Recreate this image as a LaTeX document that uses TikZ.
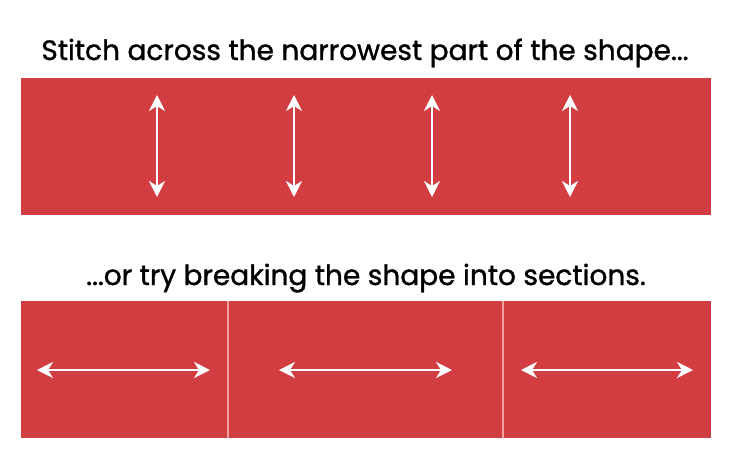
\documentclass[tikz,border=0pt]{standalone}
\usepackage{fontspec}
\setmainfont{Poppins}
\usetikzlibrary{arrows.meta}
\definecolor{feltred}{HTML}{D23D41}
\definecolor{seampink}{HTML}{F2A3A0}
\begin{document}
\begin{tikzpicture}[
                x=1pt,y=-1pt,
                panel/.style={fill=feltred,draw=none,inner sep=0pt,outer sep=0pt,
                    minimum width=690pt,minimum height=137pt,anchor=north west},
                seam/.style={draw=seampink,line width=1.4pt},
                stitch/.style={draw=white,line width=2.2pt,
                    {Stealth[length=16pt,width=16pt,inset=5pt]}-{Stealth[length=16pt,width=16pt,inset=5pt]}},
                caption/.style={font=\fontsize{28}{32}\selectfont\addfontfeature{FakeBold=1.2},
                    text=black,anchor=base,inner sep=0pt}
            ]
            \useasboundingbox (0,0) rectangle (735,467);

            % captions
            \node[caption] (topcap) at (365,60) {Stitch across the narrowest part of the shape...};
            \node[caption] (botcap) at (366,285) {...or try breaking the shape into sections.};

            % panels
            \node[panel] (toppanel) at (21,78) {};
            \node[panel] (botpanel) at (21,301) {};

            % seams between the sections
            \foreach \x/\n in {228/a,503/b} {
                \coordinate (seamtop\n) at (\x,301);
                \coordinate (seambot\n) at (\x,438);
                \draw[seam] (seamtop\n) -- (seambot\n);
            }

            % stitches across the narrow part
            \foreach \x/\n in {157/a,294/b,432/c,570/d} {
                \coordinate (up\n) at (\x,95);
                \coordinate (dn\n) at (\x,197);
                \draw[stitch] (up\n) -- (dn\n);
            }

            % stitches within the sections
            \foreach \l/\r/\n in {37/210/a,279/452/b,521/693/c} {
                \coordinate (lf\n) at (\l,370);
                \coordinate (rt\n) at (\r,370);
                \draw[stitch] (lf\n) -- (rt\n);
            }

        \end{tikzpicture}
\end{document}
